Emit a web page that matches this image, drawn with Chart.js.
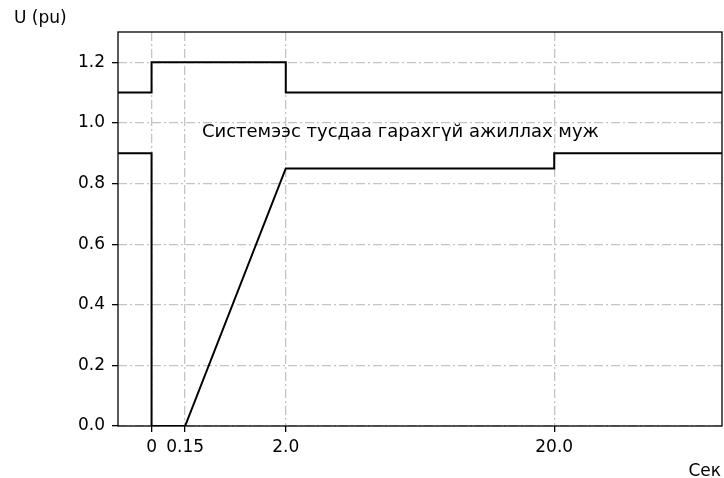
<!DOCTYPE html>
<html>
<head>
<meta charset="utf-8">
<script src="https://cdn.jsdelivr.net/npm/chart.js@4.4.1/dist/chart.umd.min.js"></script>
<style>
  html, body { margin: 0; padding: 0; background: #fff; }
  #wrap { width: 724px; height: 478px; }
</style>
</head>
<body>
<div id="wrap"><canvas id="grafik"></canvas></div>
<script>
// x axis is not to scale: each time mark sits at its own position on the axis
const xTickPos = [0, 1, 4, 12];
const xTickLabels = ["0", "0.15", "2.0", "20.0"];
const xRange = [-1, 17];
const yTicks = [0.0, 0.2, 0.4, 0.6, 0.8, 1.0, 1.2];
const yRange = [0, 1.3];

// upper limit curve
const upperX = [-1, 0, 0, 4, 4, 17];
const upperY = [1.1, 1.1, 1.2, 1.2, 1.1, 1.1];

// lower limit curve
const lowerX = [-1, 0, 0, 1, 4, 12, 12, 17];
const lowerY = [0.9, 0.9, 0.0, 0.0, 0.85, 0.85, 0.9, 0.9];

const regionText = "Системээс тусдаа гарахгүй ажиллах муж";
const regionAt = { x: 1.5, y: 0.97 };

const FONT = "DejaVu Sans";

function toPoints(xs, ys) {
  return xs.map((x, i) => ({ x: x, y: ys[i] }));
}

const frameAndText = {
  id: "frameAndText",
  afterDatasetsDraw(chart) {
    const ctx = chart.ctx;
    const a = chart.chartArea;
    const xs = chart.scales.x, ys = chart.scales.y;
    ctx.save();
    ctx.strokeStyle = "#000";
    ctx.lineWidth = 1.3;
    ctx.strokeRect(a.left, a.top, a.right - a.left, a.bottom - a.top);

    ctx.fillStyle = "#000";
    ctx.font = "18px '" + FONT + "'";
    ctx.textBaseline = "middle";
    ctx.textAlign = "left";
    ctx.fillText(regionText, xs.getPixelForValue(regionAt.x), ys.getPixelForValue(regionAt.y));

    ctx.font = "17px '" + FONT + "'";
    ctx.textAlign = "left";
    ctx.fillText("U (pu)", 14, 19);
    ctx.textAlign = "right";
    ctx.fillText("Сек", 721, 472);
    ctx.restore();
  }
};

const gridStyle = {
  color: "#c4c4c4",
  lineWidth: 1.3,
  tickColor: "#000",
  tickLength: 6,
  tickWidth: 1.3,
  tickBorderDash: []
};

const borderStyle = { display: false, dash: [9, 3, 2, 3] };

const ctx = document.getElementById("grafik").getContext("2d");
new Chart(ctx, {
  type: "line",
  data: {
    datasets: [
      {
        data: toPoints(upperX, upperY),
        borderColor: "#000",
        borderWidth: 2,
        pointRadius: 0,
        tension: 0,
        fill: false
      },
      {
        data: toPoints(lowerX, lowerY),
        borderColor: "#000",
        borderWidth: 2,
        pointRadius: 0,
        tension: 0,
        fill: false
      }
    ]
  },
  options: {
    responsive: true,
    maintainAspectRatio: false,
    animation: false,
    events: [],
    layout: { padding: { top: 32, right: 2, left: 0, bottom: 0 } },
    plugins: {
      legend: { display: false },
      tooltip: { enabled: false }
    },
    scales: {
      x: {
        type: "linear",
        min: xRange[0],
        max: xRange[1],
        afterBuildTicks: (scale) => {
          scale.ticks = xTickPos.map(v => ({ value: v }));
        },
        afterFit: (scale) => { scale.height = 52; },
        border: borderStyle,
        grid: gridStyle,
        ticks: {
          color: "#000",
          font: { family: FONT, size: 17 },
          padding: 5,
          maxRotation: 0,
          autoSkip: false,
          callback: (v) => {
            const i = xTickPos.indexOf(v);
            return i >= 0 ? xTickLabels[i] : "";
          }
        }
      },
      y: {
        type: "linear",
        min: yRange[0],
        max: yRange[1],
        afterBuildTicks: (scale) => {
          scale.ticks = yTicks.map(v => ({ value: v }));
        },
        afterFit: (scale) => { scale.width = 118; },
        border: borderStyle,
        grid: gridStyle,
        ticks: {
          color: "#000",
          font: { family: FONT, size: 17 },
          padding: 7,
          callback: (v) => v.toFixed(1)
        }
      }
    }
  },
  plugins: [frameAndText]
});
</script>
</body>
</html>
